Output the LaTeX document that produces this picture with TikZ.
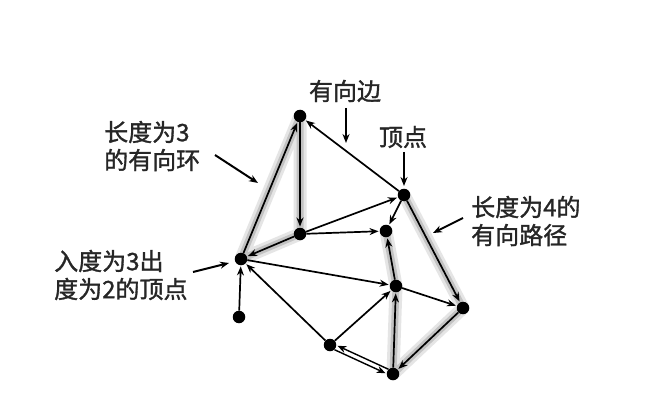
\documentclass[tikz,border=0pt]{standalone}
\usepackage{fontspec}
\setmainfont{Noto Sans CJK SC}[FakeBold=1.3]
\usetikzlibrary{arrows.meta,calc}
\begin{document}
\begin{tikzpicture}[x=1pt,y=-1pt,
  dot/.style={circle,fill=black,inner sep=0pt,minimum size=12.5pt},
  edge/.style={-{Stealth[length=9pt,width=7pt]},line width=1.7pt,shorten >=1pt},
  glowa/.style={line width=13pt,draw=black!10,line cap=round,line join=round},
  glowb/.style={line width=7pt,draw=black!24,line cap=round,line join=round},
  lbl/.style={font=\fontsize{24}{28}\selectfont,align=left,inner sep=0pt,text=black!85},
  ptr/.style={-{Stealth[length=9pt,width=7pt]},line width=2pt}]
\useasboundingbox[fill=white] (0,0) rectangle (652,406);
% vertex positions
\coordinate (pA) at (300,116);
\coordinate (pB) at (404,195);
\coordinate (pC) at (300,234);
\coordinate (pD) at (386,231);
\coordinate (pE) at (241,259);
\coordinate (pF) at (239,317);
\coordinate (pG) at (396,286);
\coordinate (pH) at (463,308);
\coordinate (pI) at (330,345);
\coordinate (pJ) at (393,374);
% highlight glows
\draw[glowa] (pE) -- (pA) -- (pC) -- cycle;
\draw[glowa] (pB) -- (pH) -- (pJ) -- (pG) -- (pD);
\draw[glowb] (pE) -- (pA) -- (pC) -- cycle;
\draw[glowb] (pB) -- (pH) -- (pJ) -- (pG) -- (pD);
% vertices
\foreach \n in {A,B,C,D,E,F,G,H,I,J} \node[dot] (\n) at (p\n) {};
% edges
\draw[edge] (E) -- (A);
\draw[edge] (A) -- (C);
\draw[edge] (C) -- (E);
\draw[edge] (B) -- (A);
\draw[edge] (C) -- (B);
\draw[edge] (C) -- (D);
\draw[edge] (B) -- (D);
\draw[edge] (B) -- (H);
\draw[edge] (H) -- (J);
\draw[edge] (J) -- (G);
\draw[edge] (G) -- (D);
\draw[edge] (E) -- (G);
\draw[edge] (G) -- (H);
\draw[edge] (I) -- (E);
\draw[edge] (I) -- (G);
\draw[edge] (F) -- (E);
\draw[edge,line width=1.4pt,shorten <=6pt,shorten >=7pt] ($(pI)!2.4pt!-90:(pJ)$) -- ($(pJ)!2.4pt!90:(pI)$);
\draw[edge,line width=1.4pt,shorten <=6pt,shorten >=7pt] ($(pJ)!2.4pt!-90:(pI)$) -- ($(pI)!2.4pt!90:(pJ)$);
% labels
\node[lbl,anchor=west] (L1) at (104,146) {长度为3\\的有向环};
\node[lbl,anchor=west] (L2) at (54,275) {入度为3出\\度为2的顶点};
\node[lbl,anchor=west] (L3) at (471,221) {长度为4的\\有向路径};
\node[lbl] (L4) at (345,91) {有向边};
\node[lbl] (L5) at (403,137) {顶点};
% pointers
\coordinate (q1a) at (215,155); \coordinate (q1b) at (258,183);
\coordinate (q2a) at (193,272); \coordinate (q2b) at (229,263);
\coordinate (q3a) at (346,108); \coordinate (q3b) at (346,143);
\coordinate (q4a) at (404,152); \coordinate (q4b) at (404,186);
\coordinate (q5a) at (463,218); \coordinate (q5b) at (433,233);
\draw[ptr] (q1a) -- (q1b);
\draw[ptr] (q2a) -- (q2b);
\draw[ptr] (q3a) -- (q3b);
\draw[ptr] (q4a) -- (q4b);
\draw[ptr] (q5a) -- (q5b);
\end{tikzpicture}
\end{document}
